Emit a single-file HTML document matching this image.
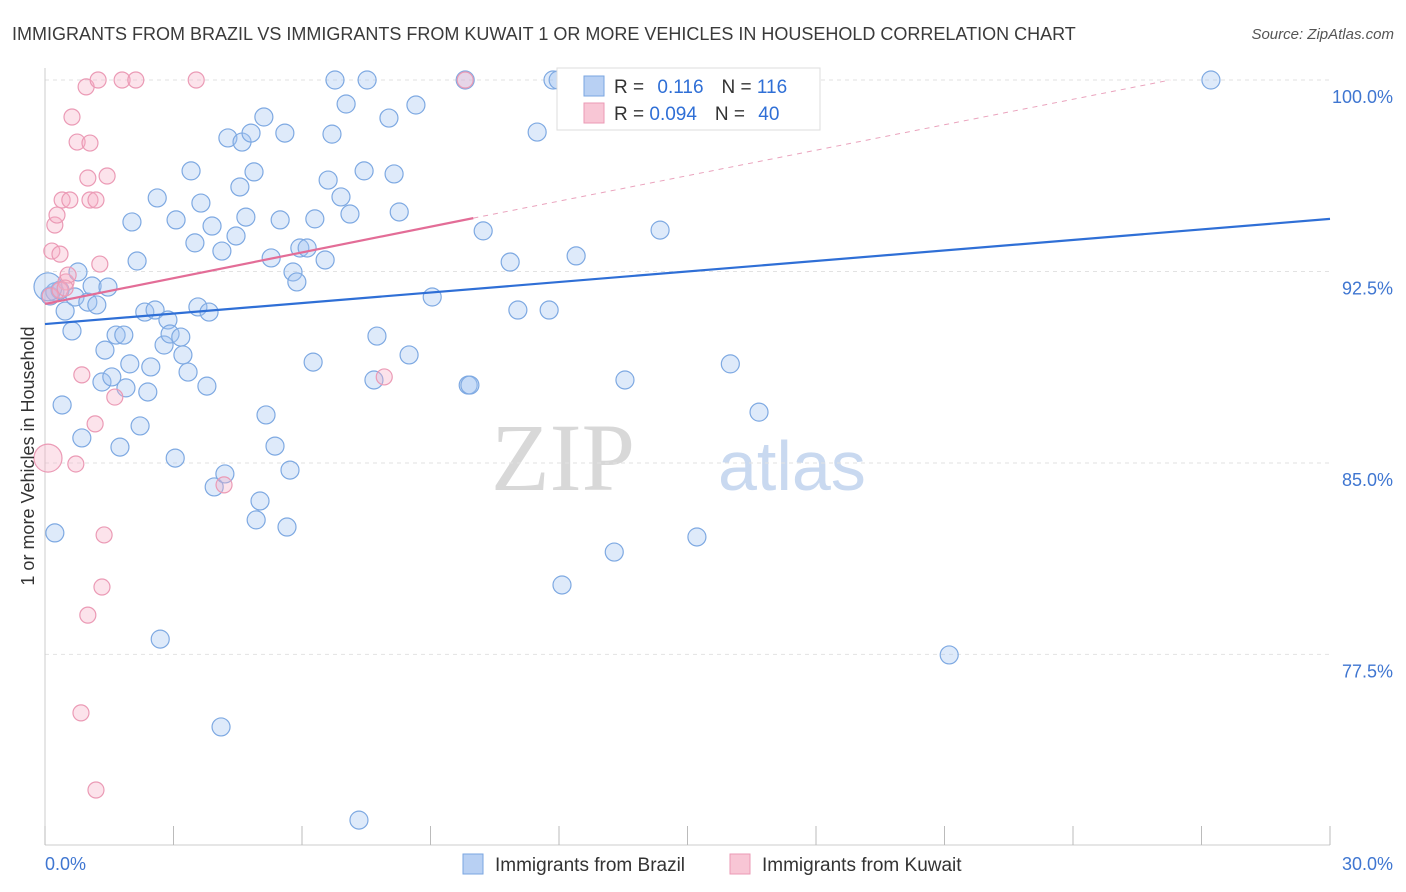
<!DOCTYPE html>
<html><head><meta charset="utf-8"><style>
body{margin:0;background:#fff;font-family:"Liberation Sans",sans-serif;}
svg{display:block}
</style></head><body>
<svg id="chart" width="1406" height="892">
<text x="12" y="40" font-size="18" fill="#3a3a3a">IMMIGRANTS FROM BRAZIL VS IMMIGRANTS FROM KUWAIT 1 OR MORE VEHICLES IN HOUSEHOLD CORRELATION CHART</text>
<text x="1394" y="39" font-size="15" fill="#555" font-style="italic" text-anchor="end">Source: ZipAtlas.com</text>
<text x="635" y="490" font-size="96" fill="#d8d8d8" text-anchor="end" font-family="Liberation Serif,serif">ZIP</text>
<text x="718" y="490" font-size="70" fill="#c9d9f0">atlas</text>
<g id="grid"></g>
<g id="axes"></g>
<g id="marks"></g>
<text transform="translate(34,456) rotate(-90)" font-size="18" fill="#333" text-anchor="middle">1 or more Vehicles in Household</text>
<g>
<rect x="557" y="68" width="263" height="62" fill="#fff" stroke="#ddd"/>
<rect x="584" y="76" width="20" height="20" fill="#b8d0f3" stroke="#7aa6e0"/>
<rect x="584" y="103" width="20" height="20" fill="#f8c6d5" stroke="#eb9ab5"/>
<text x="614" y="93" font-size="19" fill="#333">R = <tspan fill="#2f6fd6" dx="8">0.116</tspan><tspan dx="18" fill="#333">N = </tspan><tspan fill="#2f6fd6">116</tspan></text>
<text x="614" y="120" font-size="19" fill="#333">R = <tspan fill="#2f6fd6">0.094</tspan><tspan dx="18" fill="#333">N = </tspan><tspan fill="#2f6fd6" dx="8">40</tspan></text>
</g>
<g>
<rect x="463" y="854" width="20" height="20" fill="#b8d0f3" stroke="#7aa6e0"/>
<text x="495" y="871" font-size="19" fill="#333">Immigrants from Brazil</text>
<rect x="730" y="854" width="20" height="20" fill="#f8c6d5" stroke="#eb9ab5"/>
<text x="762" y="871" font-size="19" fill="#333">Immigrants from Kuwait</text>
</g>
</svg>
<script>
const xTicks=[0,3,6,9,12,15,18,21,24,27,30];
const yTicks=[77.5,85,92.5,100];
const yTickLabels=["77.5%","85.0%","92.5%","100.0%"];
const brazilX=[0.12,0.23,0.35,0.47,0.40,0.23,0.63,0.70,0.77,0.86,1.00,1.10,1.21,1.40,1.47,1.33,1.56,1.66,1.75,1.84,1.89,1.98,2.03,2.15,2.22,2.33,2.40,2.47,2.57,2.62,2.69,2.78,2.87,2.92,3.04,3.06,3.17,3.22,3.34,3.41,3.50,3.57,3.64,3.78,3.83,3.90,3.95,4.11,4.13,4.20,4.27,4.46,4.55,4.60,4.69,4.81,4.88,4.93,5.02,5.11,5.16,5.28,5.37,5.49,5.60,5.65,5.72,5.79,5.88,5.95,6.12,6.26,6.30,6.54,6.61,6.70,6.77,6.91,7.03,7.12,7.33,7.45,7.52,7.68,7.75,8.03,8.15,8.27,8.50,8.66,9.04,9.81,9.88,9.92,10.23,10.86,11.04,11.49,11.77,11.86,11.98,12.07,12.40,13.29,13.54,13.94,14.36,15.22,16.00,16.23,16.67,21.11,27.22,0.07];
const brazilY=[91.54,91.70,91.77,90.95,87.27,82.26,90.17,91.50,92.48,85.98,91.30,91.93,91.19,89.42,91.89,88.17,88.37,90.01,85.62,90.01,87.94,88.88,94.44,92.91,86.45,90.91,87.78,88.76,90.99,95.38,78.10,89.62,90.60,90.05,85.19,94.52,89.93,89.23,88.56,96.44,93.62,91.11,95.18,88.01,90.91,94.28,84.06,74.66,93.30,84.57,97.73,93.89,95.81,97.57,94.63,97.92,96.40,82.77,83.51,98.55,86.88,93.03,85.66,94.52,97.92,82.49,84.72,92.48,92.09,93.42,93.42,88.95,94.56,92.95,96.08,97.88,100,95.42,99.06,94.75,71.01,96.44,100,88.25,89.97,98.51,96.32,94.83,89.23,99.02,91.50,100,88.05,88.05,94.09,92.87,90.99,97.96,90.99,100,100,80.22,93.11,81.51,88.25,100,94.12,82.10,88.88,100,86.99,77.48,100,91.9];
const kuwaitX=[0.07,0.12,0.16,0.23,0.28,0.35,0.40,0.49,0.54,0.58,0.63,0.75,0.72,0.86,0.96,1.00,1.00,1.05,1.05,1.17,1.19,0.84,1.19,1.28,1.33,1.38,1.45,1.24,1.63,1.80,2.12,3.53,4.18,7.92,9.81,0.35,0.47];
const kuwaitY=[85.19,91.54,93.30,94.32,94.71,93.18,95.30,92.09,92.36,95.30,98.55,97.57,84.96,88.45,99.73,96.16,79.04,97.53,95.30,86.53,95.30,75.21,72.19,92.79,80.14,82.18,96.24,100,87.58,100,100,100,84.14,88.37,100,91.77,91.85];
const brazilTrend=[[0,90.44],[30,94.56]];
const kuwaitTrend=[[0,91.23],[10,94.59]];
const kuwaitTrendExt=[[10,94.59],[26.27,100]];
const X=v=>45+v*(1285/30), Y=v=>80+(100-v)*25.53;
const NS="http://www.w3.org/2000/svg";
function mk(tag,attrs,parent){const e=document.createElementNS(NS,tag);for(const k in attrs)e.setAttribute(k,attrs[k]);document.getElementById(parent).appendChild(e);return e;}
yTicks.forEach((t,i)=>{
 const g=mk('line',{x1:45,x2:1330,y1:Y(t),y2:Y(t),stroke:'#e2e2e2','stroke-dasharray':'4,4'},'grid');
 
 
 const l=mk('text',{x:1393,y:Y(t)+23,'font-size':18,fill:'#3f76d1','text-anchor':'end'},'axes');
 l.textContent=yTickLabels[i];
 
 
});
const ax=mk('line',{x1:45,x2:1330,y1:845,y2:845,stroke:'#ccc'},'axes');


const ay=mk('line',{x1:45,x2:45,y1:68,y2:845,stroke:'#ccc'},'axes');


xTicks.forEach(t=>{
 const tk=mk('line',{x1:X(t),x2:X(t),y1:826,y2:845,stroke:'#bbb'},'axes');
 
 
});
const xl0=mk('text',{x:45,y:870,'font-size':18,fill:'#3f76d1'},'axes');xl0.textContent='0.0%';


const xl1=mk('text',{x:1393,y:870,'font-size':18,fill:'#3f76d1','text-anchor':'end'},'axes');xl1.textContent='30.0%';


brazilX.forEach((v,i)=>{
 const c=mk('circle',{cx:X(v),cy:Y(brazilY[i]),r:i==brazilX.length-1?14:9,fill:'rgba(160,195,240,0.35)',stroke:'#7ea9e2','stroke-width':1.2},'marks');
 
 
});
kuwaitX.forEach((v,i)=>{
 const c=mk('circle',{cx:X(v),cy:Y(kuwaitY[i]),r:i==0?14:8,fill:'rgba(245,175,198,0.35)',stroke:'#eb9ab5','stroke-width':1.2},'marks');
 
 
});
const bt=mk('line',{x1:X(brazilTrend[0][0]),y1:Y(brazilTrend[0][1]),x2:X(brazilTrend[1][0]),y2:Y(brazilTrend[1][1]),stroke:'#2f6fd6','stroke-width':2.2},'marks');


const kt=mk('line',{x1:X(kuwaitTrend[0][0]),y1:Y(kuwaitTrend[0][1]),x2:X(kuwaitTrend[1][0]),y2:Y(kuwaitTrend[1][1]),stroke:'#e36d97','stroke-width':2.2},'marks');


const ke=mk('line',{x1:X(kuwaitTrendExt[0][0]),y1:Y(kuwaitTrendExt[0][1]),x2:X(kuwaitTrendExt[1][0]),y2:Y(kuwaitTrendExt[1][1]),stroke:'#eaa3bd','stroke-width':1,'stroke-dasharray':'5,5'},'marks');


</script>
</body></html>
